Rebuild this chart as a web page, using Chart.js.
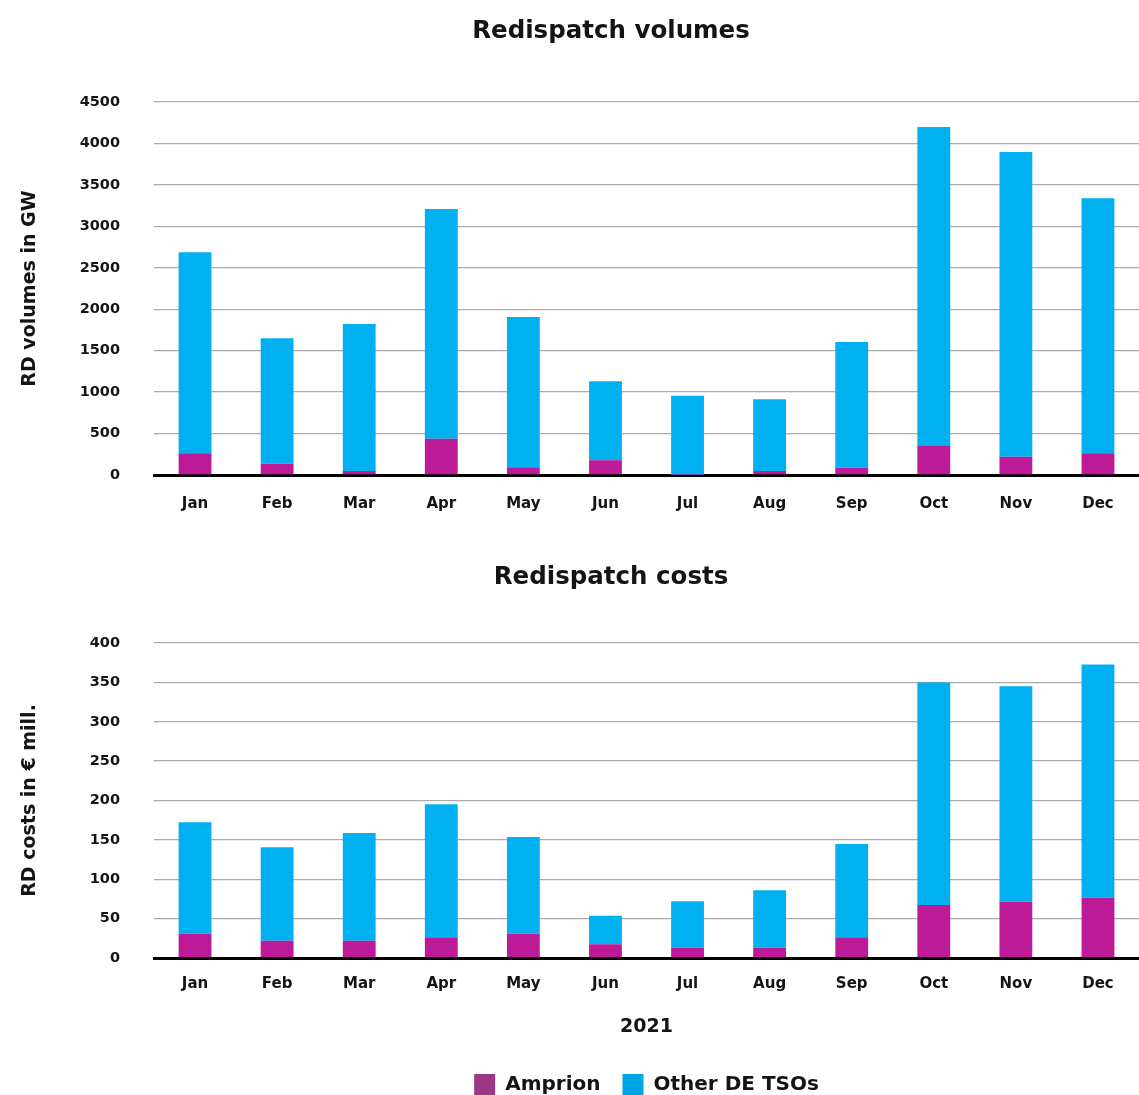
<!DOCTYPE html>
<html>
<head>
<meta charset="utf-8">
<script src="https://cdn.jsdelivr.net/npm/chart.js@4.4.1/dist/chart.umd.min.js"></script>
<style>
  html, body { margin: 0; padding: 0; background: #ffffff; }
  #wrap { position: relative; width: 1139px; height: 1095px; }
  canvas { position: absolute; left: 0; }
  #volCanvas { top: 0; }
  #costCanvas { top: 530px; }
</style>
</head>
<body>
<div id="wrap">
  <canvas id="volCanvas" width="1139" height="530"></canvas>
  <canvas id="costCanvas" width="1139" height="565"></canvas>
</div>
<script>
// Months of 2021
const months = ['Jan', 'Feb', 'Mar', 'Apr', 'May', 'Jun', 'Jul', 'Aug', 'Sep', 'Oct', 'Nov', 'Dec'];

// Redispatch volumes (GW)
const volAmprion = [262, 137, 48, 438, 93, 177, 3, 48, 88, 350, 221, 262];
const volOther   = [2425, 1512, 1774, 2771, 1813, 953, 954, 865, 1517, 3848, 3676, 3076];

// Redispatch costs (EUR million)
const costAmprion = [30.9, 22, 22, 26.3, 30.9, 17.4, 13.1, 13, 26.3, 67.3, 71.5, 76.6];
const costOther   = [141.5, 118.6, 136.8, 169, 122.8, 36.4, 58.9, 73, 118.6, 282.5, 273.7, 296.1];

const seriesNames = ['Amprion', 'Other DE TSOs'];
const barColors = ['#bd1a98', '#00b0f0'];
const legendColors = ['#9c3784', '#00a6e4'];

const FONT = "'DejaVu Sans', sans-serif";
const TEXT = '#141414';

// Draws the chart heading at a fixed horizontal centre
const headingPlugin = {
  id: 'heading',
  afterDraw(chart, args, opts) {
    const ctx = chart.ctx;
    ctx.save();
    ctx.font = `bold ${opts.size}px ${FONT}`;
    ctx.fillStyle = TEXT;
    ctx.textAlign = 'center';
    ctx.textBaseline = 'middle';
    ctx.fillText(opts.text, opts.x, opts.y);
    ctx.restore();
  }
};

function datasets(amp, other) {
  return [
    { label: seriesNames[0], data: amp, backgroundColor: barColors[0], borderWidth: 0,
      barPercentage: 0.4, categoryPercentage: 1.0 },
    { label: seriesNames[1], data: other, backgroundColor: barColors[1], borderWidth: 0,
      barPercentage: 0.4, categoryPercentage: 1.0 }
  ];
}

function baseOptions(cfg) {
  return {
    responsive: false,
    animation: false,
    devicePixelRatio: 1,
    layout: { padding: { left: 0, right: 0, top: cfg.layoutTop, bottom: cfg.layoutBottom } },
    plugins: {
      heading: { text: cfg.title, x: 611, y: cfg.titleY, size: 24.5 },
      title: { display: false },
      legend: cfg.legend,
      tooltip: { enabled: false }
    },
    scales: {
      x: {
        stacked: true,
        grid: { display: false, drawTicks: false },
        border: { display: true, color: '#000000', width: 3 },
        ticks: { color: TEXT, padding: cfg.xTickPad, font: { family: FONT, size: 15, weight: 'bold' } },
        title: cfg.xTitle,
        afterFit: (s) => { s.height = cfg.xHeight; }
      },
      y: {
        stacked: true,
        min: 0,
        max: cfg.yMax,
        ticks: { stepSize: cfg.yStep, color: TEXT, padding: 34,
                 font: { family: FONT, size: 14.5, weight: 'bold' },
                 callback: (v) => String(v) },
        grid: { color: '#ababab', lineWidth: 1.3, drawTicks: false },
        border: { display: false },
        title: {
          display: true,
          text: cfg.yTitle,
          color: TEXT,
          font: { family: FONT, size: 19, weight: 'bold', lineHeight: 1.2 },
          padding: { top: 19, bottom: 0 }
        },
        afterFit: (s) => { s.width = 154; }
      }
    }
  };
}

new Chart(document.getElementById('volCanvas'), {
  type: 'bar',
  data: { labels: months, datasets: datasets(volAmprion, volOther) },
  plugins: [headingPlugin],
  options: baseOptions({
    title: 'Redispatch volumes', titleY: 32,
    layoutTop: 102, layoutBottom: 0,
    yMax: 4500, yStep: 500,
    yTitle: 'RD volumes in GW',
    xTickPad: 20, xHeight: 55,
    xTitle: { display: false },
    legend: { display: false }
  })
});

new Chart(document.getElementById('costCanvas'), {
  type: 'bar',
  data: { labels: months, datasets: datasets(costAmprion, costOther) },
  plugins: [headingPlugin],
  options: baseOptions({
    title: 'Redispatch costs', titleY: 48,
    layoutTop: 113, layoutBottom: -10,
    yMax: 400, yStep: 50,
    yTitle: 'RD costs in \u20AC mill.',
    xTickPad: 17, xHeight: 94,
    xTitle: {
      display: true, text: '2021', color: TEXT,
      font: { family: FONT, size: 19, weight: 'bold', lineHeight: 1.2 },
      padding: { top: 0, bottom: 14 }
    },
    legend: {
      display: true,
      position: 'bottom',
      fullSize: false,
      labels: {
        boxWidth: 21, boxHeight: 21, padding: 22, color: TEXT,
        font: { family: FONT, size: 20, weight: 'bold' },
        generateLabels: (chart) => chart.data.datasets.map((ds, i) => ({
          text: ds.label, fillStyle: legendColors[i], strokeStyle: legendColors[i],
          lineWidth: 0, hidden: false, datasetIndex: i, fontColor: TEXT
        }))
      }
    }
  })
});
</script>
</body>
</html>
